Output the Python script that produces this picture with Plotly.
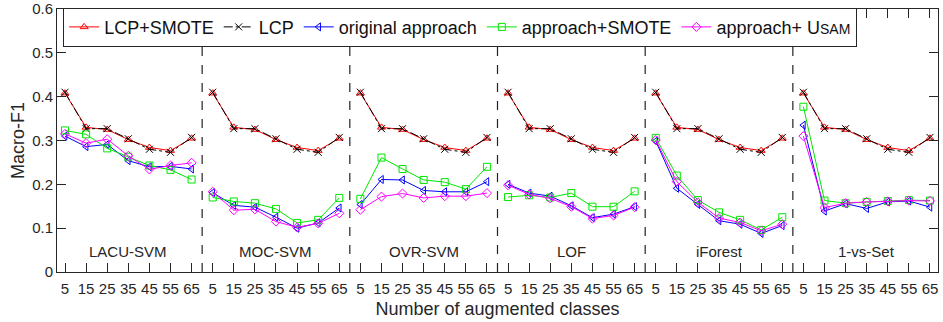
import plotly.graph_objects as go

# ---------------- data ----------------
x_labels = [5, 15, 25, 35, 45, 55, 65]
methods = ["LACU-SVM", "MOC-SVM", "OVR-SVM", "LOF", "iForest", "1-vs-Set"]

lcp_smote = [0.408, 0.330, 0.325, 0.302, 0.284, 0.277, 0.305]
lcp = [0.410, 0.327, 0.327, 0.304, 0.280, 0.273, 0.307]

orig_lacu = [0.310, 0.286, 0.291, 0.254, 0.240, 0.241, 0.235]
orig_moc = [0.181, 0.152, 0.148, 0.125, 0.100, 0.112, 0.146]
orig_ovr = [0.154, 0.211, 0.210, 0.186, 0.183, 0.183, 0.206]
orig_lof = [0.200, 0.180, 0.173, 0.151, 0.124, 0.132, 0.149]
orig_ifo = [0.299, 0.191, 0.154, 0.117, 0.109, 0.088, 0.106]
orig_1vs = [0.335, 0.139, 0.156, 0.145, 0.160, 0.162, 0.148]

smote_lacu = [0.323, 0.314, 0.282, 0.263, 0.243, 0.233, 0.211]
smote_moc = [0.170, 0.161, 0.157, 0.144, 0.112, 0.119, 0.169]
smote_ovr = [0.167, 0.261, 0.235, 0.210, 0.205, 0.189, 0.240]
smote_lof = [0.171, 0.175, 0.170, 0.180, 0.149, 0.149, 0.184]
smote_ifo = [0.306, 0.220, 0.164, 0.136, 0.119, 0.096, 0.125]
smote_1vs = [0.377, 0.163, 0.157, 0.160, 0.162, 0.164, 0.163]

usam_lacu = [0.315, 0.294, 0.303, 0.265, 0.234, 0.243, 0.249]
usam_moc = [0.183, 0.141, 0.143, 0.115, 0.102, 0.111, 0.134]
usam_ovr = [0.142, 0.172, 0.179, 0.169, 0.173, 0.173, 0.180]
usam_lof = [0.198, 0.177, 0.168, 0.149, 0.122, 0.129, 0.148]
usam_ifo = [0.301, 0.206, 0.159, 0.123, 0.113, 0.094, 0.109]
usam_1vs = [0.310, 0.147, 0.157, 0.160, 0.161, 0.163, 0.162]

y_ticks = [0, 0.1, 0.2, 0.3, 0.4, 0.5, 0.6]
y_tick_labels = ["0", "0.1", "0.2", "0.3", "0.4", "0.5", "0.6"]

series = [
    ("LCP+SMOTE", [lcp_smote] * 6, "#ff0000", "solid", "triangle-up-open"),
    ("LCP", [lcp] * 6, "#000000", "dashdot", "x-thin-open"),
    ("original approach", [orig_lacu, orig_moc, orig_ovr, orig_lof, orig_ifo, orig_1vs],
     "#0000ff", "solid", "triangle-left-open"),
    ("approach+SMOTE", [smote_lacu, smote_moc, smote_ovr, smote_lof, smote_ifo, smote_1vs],
     "#00e600", "solid", "square-open"),
    ("approach+ U<span style='font-size:14px'>SAM</span>",
     [usam_lacu, usam_moc, usam_ovr, usam_lof, usam_ifo, usam_1vs],
     "#ff00ff", "solid", "diamond-open"),
]

n = len(x_labels)
step = n  # one slot per point; panels follow each other

fig = go.Figure()
for name, panels, color, dash, sym in series:
    xs, ys = [], []
    for k, vals in enumerate(panels):
        xs += [k * step + i for i in range(n)] + [None]
        ys += list(vals) + [None]
    fig.add_trace(go.Scatter(
        x=xs, y=ys, mode="lines+markers", name=name,
        line=dict(color=color, width=1, dash=dash),
        marker=dict(symbol=sym, size=7, color=color, line=dict(color=color, width=1)),
        connectgaps=False,
    ))

tickvals, ticktext = [], []
for k in range(len(methods)):
    for i, lab in enumerate(x_labels):
        tickvals.append(k * step + i)
        ticktext.append(str(lab))

# panel separators
for k in range(1, len(methods)):
    xv = k * step - 0.5
    fig.add_shape(type="line", x0=xv, x1=xv, y0=0, y1=0.6, xref="x", yref="y",
                  line=dict(color="#222222", width=1.2, dash="dash"), layer="below")

# panel names
for k, m in enumerate(methods):
    fig.add_annotation(x=k * step + (n - 1) / 2, y=0.046, text=m, showarrow=False,
                       font=dict(size=15, color="#262626"), xref="x", yref="y")

axis_color = "#262626"
fig.update_layout(
    width=943, height=322,
    margin=dict(l=57, r=5, t=9, b=50, autoexpand=False),
    plot_bgcolor="white", paper_bgcolor="white",
    font=dict(family="Liberation Sans, Arial, sans-serif", color=axis_color, size=15),
    showlegend=True,
    legend=dict(
        orientation="h", x=0.007, y=1.005, xanchor="left", yanchor="top",
        bgcolor="white", bordercolor=axis_color, borderwidth=1,
        font=dict(size=18, color="#111111"), itemwidth=30,
        tracegroupgap=0,
    ),
)
fig.update_xaxes(
    range=[-0.38, len(methods) * step - 1 + 0.38],
    tickmode="array", tickvals=tickvals, ticktext=ticktext,
    ticks="inside", ticklen=9, tickcolor=axis_color, tickwidth=1,
    showline=True, linecolor=axis_color, linewidth=1, mirror="ticks",
    showgrid=False, zeroline=False, automargin=False,
    tickfont=dict(size=15, color=axis_color), ticklabelstandoff=3,
    title=dict(text="Number of augmented classes", font=dict(size=18, color=axis_color), standoff=6),
)
fig.update_yaxes(
    range=[0, 0.6],
    tickmode="array", tickvals=y_ticks, ticktext=y_tick_labels,
    ticks="inside", ticklen=9, tickcolor=axis_color, tickwidth=1,
    showline=True, linecolor=axis_color, linewidth=1, mirror="ticks",
    showgrid=False, zeroline=False, automargin=False,
    tickfont=dict(size=15, color=axis_color),
    title=dict(text="Macro-F1", font=dict(size=18, color=axis_color), standoff=2),
)

# remove the browser's default page margin so the figure fills the window
fig.write_html("out.html", config={"displayModeBar": False},
               post_script="document.body.style.margin='0';")
